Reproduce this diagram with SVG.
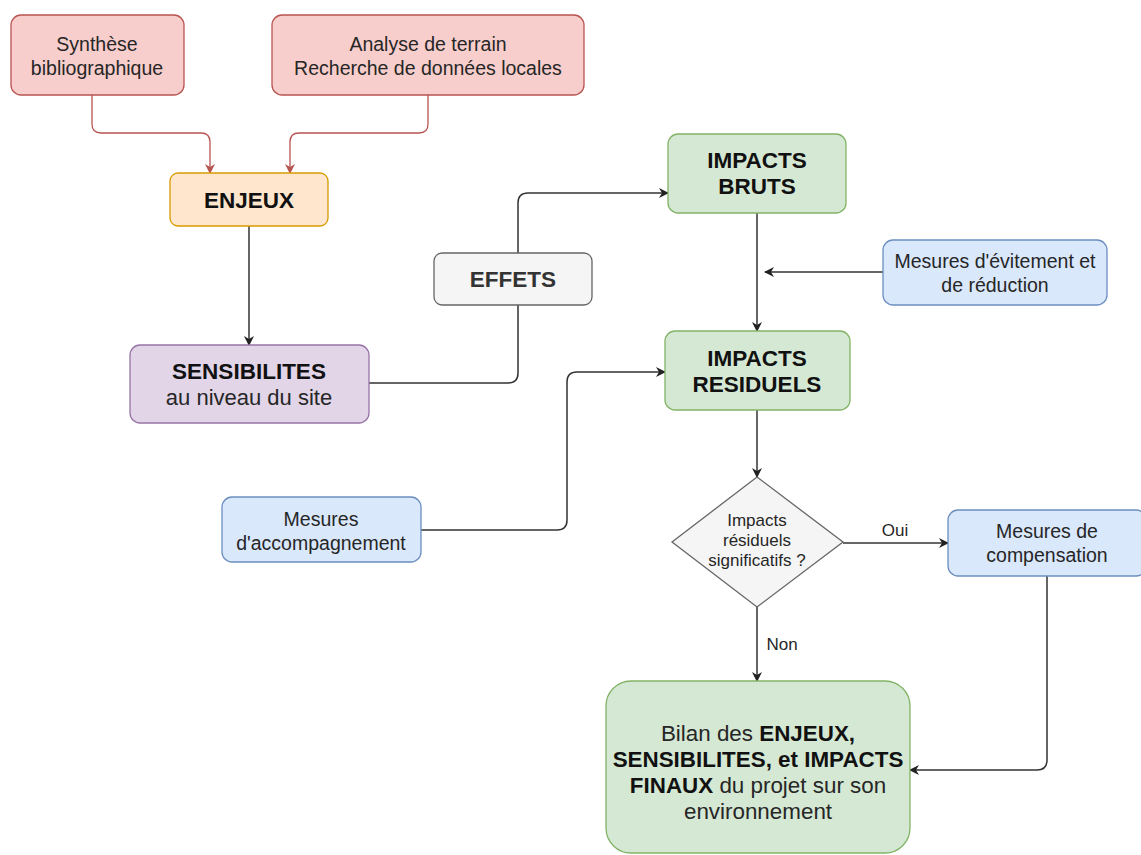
<svg xmlns="http://www.w3.org/2000/svg" width="1141" height="855" viewBox="0 0 1141 855">
<defs>
<marker id="arr" viewBox="0 0 10 10" refX="9" refY="5" markerWidth="10" markerHeight="10" markerUnits="userSpaceOnUse" orient="auto">
<path d="M0,0 L10,5 L0,10 L3,5 Z" fill="#222"/>
</marker>
<marker id="arrR" viewBox="0 0 10 10" refX="9" refY="5" markerWidth="10" markerHeight="10" markerUnits="userSpaceOnUse" orient="auto">
<path d="M0,0 L10,5 L0,10 L3,5 Z" fill="#b85450"/>
</marker>
</defs>
<style>
text{font-family:"Liberation Sans",Arial,sans-serif;fill:#262626;text-anchor:middle}
.n{font-size:19.5px}
.b{font-size:22.5px;font-weight:bold;fill:#111}
.s{font-size:17px}
.l{font-size:17px}
.red{fill:#f8cecc;stroke:#b85450;stroke-width:1.3}
.org{fill:#ffe6cc;stroke:#d79b00;stroke-width:1.3}
.pur{fill:#e1d5e7;stroke:#9673a6;stroke-width:1.3}
.grn{fill:#d5e8d4;stroke:#82b366;stroke-width:1.3}
.blu{fill:#dae8fc;stroke:#6c8ebf;stroke-width:1.3}
.gry{fill:#f5f5f5;stroke:#666;stroke-width:1.3}
.c{fill:none;stroke:#333;stroke-width:1.5;marker-end:url(#arr)}
.cr{fill:none;stroke:#b85450;stroke-width:1.3;marker-end:url(#arrR)}
</style>
<rect width="1141" height="855" fill="#fff"/>
<g id="connectors">
<path class="cr" d="M92,95 V124 Q92,133 101,133 H201 Q210,133 210,142 V173"/>
<path class="cr" d="M428,95 V124 Q428,133 419,133 H299 Q290,133 290,142 V173"/>
<path class="c" d="M249,226 V345"/>
<path class="c" d="M369,383 H508 Q518,383 518,373 V203 Q518,193 528,193 H668"/>
<path class="c" d="M757,213 V331"/>
<path class="c" d="M883,272 H765"/>
<path class="c" d="M421,530 H557 Q567,530 567,520 V382 Q567,372 577,372 H665"/>
<path class="c" d="M757,410 V477"/>
<path class="c" d="M843,543 H948"/>
<path class="c" d="M757,607 V681"/>
<path class="c" d="M1047,576 V760 Q1047,770 1037,770 H910"/>
<text class="l" x="895" y="536">Oui</text>
<text class="l" x="782" y="650">Non</text>
</g>
<g id="synthese">
<rect class="red" x="11" y="15" width="173" height="80" rx="10"/>
<text class="n" x="97" y="51">Synthèse</text>
<text class="n" x="97" y="75">bibliographique</text>
</g>
<g id="analyse">
<rect class="red" x="272" y="15" width="312" height="80" rx="10"/>
<text class="n" x="428" y="51">Analyse de terrain</text>
<text class="n" x="428" y="75">Recherche de données locales</text>
</g>
<g id="enjeux">
<rect class="org" x="170" y="173" width="158" height="53" rx="8"/>
<text class="b" x="249" y="208">ENJEUX</text>
</g>
<g id="sensibilites">
<rect class="pur" x="130" y="345" width="239" height="78" rx="10"/>
<text class="b" x="249" y="379">SENSIBILITES</text>
<text class="n" x="249" y="405" style="font-size:22px">au niveau du site</text>
</g>
<g id="effets">
<rect class="gry" x="434" y="253" width="158" height="52" rx="8"/>
<text class="b" x="513" y="287" style="fill:#333">EFFETS</text>
</g>
<g id="impacts-bruts">
<rect class="grn" x="668" y="134" width="178" height="79" rx="10"/>
<text class="b" x="757" y="168">IMPACTS</text>
<text class="b" x="757" y="194">BRUTS</text>
</g>
<g id="mesures-evitement">
<rect class="blu" x="883" y="240" width="224" height="65" rx="10"/>
<text class="n" x="995" y="268">Mesures d'évitement et</text>
<text class="n" x="995" y="292">de réduction</text>
</g>
<g id="impacts-residuels">
<rect class="grn" x="665" y="331" width="185" height="79" rx="10"/>
<text class="b" x="757" y="366">IMPACTS</text>
<text class="b" x="757" y="392">RESIDUELS</text>
</g>
<g id="mesures-accompagnement">
<rect class="blu" x="222" y="497" width="199" height="65" rx="10"/>
<text class="n" x="321" y="526">Mesures</text>
<text class="n" x="321" y="550">d'accompagnement</text>
</g>
<g id="decision">
<polygon class="gry" points="757,477 843,542 757,607 672,542"/>
<text class="s" x="757" y="526">Impacts</text>
<text class="s" x="757" y="546">résiduels</text>
<text class="s" x="757" y="566">significatifs ?</text>
</g>
<g id="mesures-compensation">
<rect class="blu" x="948" y="510" width="198" height="66" rx="10"/>
<text class="n" x="1047" y="538">Mesures de</text>
<text class="n" x="1047" y="562">compensation</text>
</g>
<g id="bilan">
<rect class="grn" x="606" y="681" width="304" height="172" rx="25"/>
<text style="font-size:22.4px" x="758" y="741">Bilan des <tspan font-weight="bold" fill="#111">ENJEUX,</tspan></text>
<text class="b" x="758" y="767" style="font-size:22.4px">SENSIBILITES, et IMPACTS</text>
<text style="font-size:22.4px" x="758" y="793"><tspan font-weight="bold" fill="#111">FINAUX</tspan> du projet sur son</text>
<text style="font-size:22.4px" x="758" y="819">environnement</text>
</g>
</svg>
